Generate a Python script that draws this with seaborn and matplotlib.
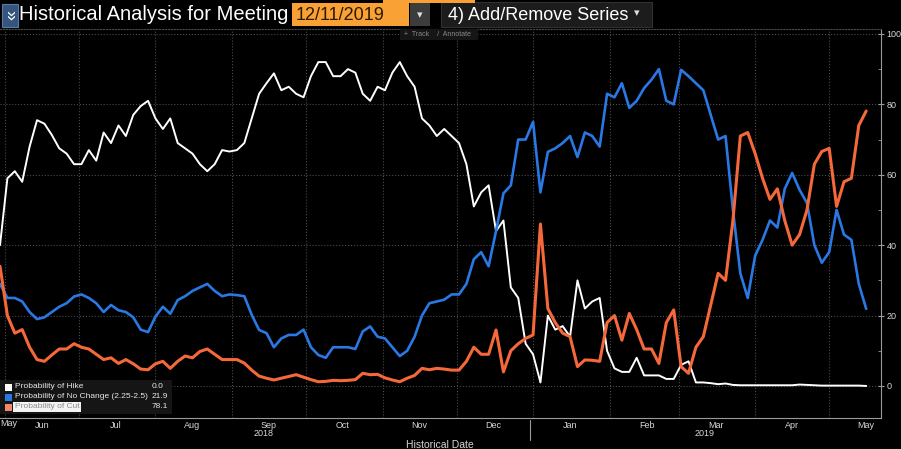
# Fed meeting probabilities chart (Bloomberg style)

# =====================================================
# 1. IMPORT LIBRARIES
# =====================================================

import pandas as pd
import numpy as np

import matplotlib
matplotlib.use("Agg")
import matplotlib.pyplot as plt
import matplotlib.dates as mdates
from matplotlib.lines import Line2D
from matplotlib.patches import Rectangle
import seaborn as sns

# =====================================================
# 2. DATA (one point every 3 days)
# =====================================================

start_date = "2018-05-30"

hike = [
    40, 59, 61, 58, 68, 75.5, 74.5, 71.3, 67.5, 66,
    63, 63, 67, 64, 72, 69, 74, 71, 77, 79.5,
    81, 76, 73, 76, 69, 67.5, 66, 63, 61, 63,
    67, 66.6, 67, 69, 76, 83, 86, 88.8, 84, 85,
    83, 82, 88, 92, 92, 88, 88, 90, 89, 83,
    81, 85, 84, 89, 92, 88, 85, 76, 74, 71,
    73, 71, 69, 63, 51, 55, 57, 44, 47, 28,
    25, 12, 9, 1, 20, 16, 17, 14, 30, 22,
    24, 25, 10, 5, 4, 4, 8, 3, 3, 3,
    2, 2, 6, 7, 1, 1, 0.8, 0.5, 0.7, 0.3,
    0.2, 0.2, 0.2, 0.2, 0.2, 0.2, 0.2, 0.2, 0.4, 0.3,
    0.2, 0.1, 0.1, 0.1, 0.1, 0.1, 0.1, 0.0,
]

no_change = [
    29, 25, 25, 24, 21, 19, 19.5, 21, 22.5, 23.5,
    25.4, 26, 25, 23.5, 21, 23, 21.5, 21, 19.5, 16,
    15.3, 19.7, 22.5, 20.5, 24.4, 25.5, 27, 28, 29, 27,
    25.5, 26, 25.8, 25.5, 20.2, 15.9, 15, 11, 13.5, 14.5,
    14.5, 16, 11, 8.8, 8, 11, 11, 11, 10.5, 15.5,
    16.9, 14, 13.5, 11, 8.5, 10, 14, 20, 23.5, 24,
    24.5, 26, 26, 29, 36, 38, 34, 44, 54.7, 57,
    70, 70, 75, 55, 66.5, 67.5, 69, 71, 65, 72,
    71, 68, 83, 82, 86, 79, 81, 84.6, 87, 90,
    81, 80, 89.8, 88, 86, 84, 77, 70, 71, 50,
    32, 25, 37, 41.5, 47, 45, 56, 60.5, 55.7, 52,
    40, 35, 38, 50, 43, 41.5, 29, 21.9,
]

cut = [
    34, 20, 15, 16, 11, 7.5, 7, 8.8, 10.5, 10.5,
    12, 11, 10.5, 9, 7.5, 8, 6.4, 7.5, 6.3, 4.8,
    4.6, 6.3, 7, 5, 7, 8.5, 8, 9.8, 10.5, 9,
    7.5, 7.5, 7.5, 6.5, 4.5, 2.8, 2.2, 1.7, 2.2, 2.7,
    3.2, 2.5, 1.8, 1.2, 1.3, 1.6, 1.5, 1.6, 1.8, 3.6,
    3.2, 3.3, 2.3, 1.7, 1.2, 2.2, 3, 5, 4.6, 5,
    4.8, 4.5, 4.5, 7, 11, 9, 9, 15.9, 4, 10,
    12, 13.5, 14.5, 46, 22, 18, 15, 14, 5.5, 7.4,
    7.3, 7, 18, 20, 13, 20.6, 16, 10.5, 10.5, 6.4,
    18, 21.6, 5.5, 3.6, 11, 14, 23, 32, 30, 47,
    71, 72, 66, 59, 53, 56, 47, 40, 43, 50,
    63, 66.6, 67.5, 51, 58, 59, 74, 78.1,
]

series_names = [
    "Probability of Hike",
    "Probability of No Change (2.25-2.5)",
    "Probability of Cut",
]
last_values = ["0.0", "21.9", "78.1"]

dates = pd.date_range(start_date, periods=len(hike), freq="3D")

df = pd.DataFrame({
    "Date": dates,
    "Hike": hike,
    "NoChange": no_change,
    "Cut": cut,
})

# =====================================================
# 3. STYLE
# =====================================================

sns.set_style("dark")

plt.rcParams["font.family"] = ["Liberation Sans", "DejaVu Sans"]

WHITE = "#ffffff"
BLUE = "#2a78e4"
ORANGE = "#f5683a"
GRID = "#4a4a4a"
TXT = "#d8d8d8"

W, H = 901, 449

fig = plt.figure(figsize=(W / 100, H / 100), dpi=100, facecolor="black")

ax = fig.add_axes([0, 31 / H, 881 / W, 389 / H])
ax.set_facecolor("black")

# =====================================================
# 4. LINES
# =====================================================

sns.lineplot(data=df, x="Date", y="Hike", color=WHITE, linewidth=1.4, ax=ax, legend=False)
sns.lineplot(data=df, x="Date", y="NoChange", color=BLUE, linewidth=1.9, ax=ax, legend=False)
sns.lineplot(data=df, x="Date", y="Cut", color=ORANGE, linewidth=2.2, ax=ax, legend=False)

# =====================================================
# 5. AXES
# =====================================================

ax.set_xlim(pd.Timestamp("2018-05-30"), pd.Timestamp("2019-05-22"))
ax.set_ylim(-9.1, 101.4)

ax.xaxis.set_major_locator(mdates.MonthLocator())
ax.xaxis.set_major_formatter(plt.NullFormatter())
ax.xaxis.set_minor_locator(mdates.MonthLocator(bymonthday=16))
ax.xaxis.set_minor_formatter(mdates.DateFormatter("%b"))

ax.yaxis.tick_right()
ax.set_yticks([0, 20, 40, 60, 80, 100])
ax.set_yticks([10, 30, 50, 70, 90], minor=True)

ax.tick_params(axis="x", which="major", direction="inout", length=5,
               color="#9a9a9a", width=0.8)
ax.tick_params(axis="x", which="minor", length=0, labelsize=6.5,
               labelcolor=TXT, pad=2)
ax.tick_params(axis="y", which="major", direction="inout", length=5,
               color="#9a9a9a", width=0.8, labelsize=6.5, labelcolor=TXT, pad=1.5)
ax.tick_params(axis="y", which="minor", direction="in", length=2,
               color="#9a9a9a", width=0.6)

ax.set_xlabel("")
ax.set_ylabel("")

ax.grid(True, which="major", color=GRID, linestyle=":", linewidth=0.8)
ax.grid(False, which="minor")

ax.spines["left"].set_visible(False)
ax.spines["top"].set_color(GRID)
ax.spines["top"].set_linestyle(":")
ax.spines["top"].set_linewidth(0.8)
ax.spines["bottom"].set_color("#9a9a9a")
ax.spines["right"].set_color("#9a9a9a")


def px(x, y):
    return x / W, 1 - y / H


# leftover "May" label at the left edge
fig.text(*px(0, 424), "May", color=TXT, fontsize=6.5, ha="left", va="center")

fig.text(*px(264, 434), "2018", color=TXT, fontsize=6.5, ha="center", va="center")
fig.text(*px(705, 434), "2019", color=TXT, fontsize=6.5, ha="center", va="center")
fig.add_artist(Line2D([530 / W, 530 / W], [1 - 420 / H, 1 - 440 / H],
                      color="#9a9a9a", linewidth=0.8))
fig.text(*px(440, 445), "Historical Date", color=TXT, fontsize=7.5,
         ha="center", va="center")

# =====================================================
# 6. LEGEND BOX
# =====================================================

fig.add_artist(Rectangle(px(0, 414), 172 / W, 34 / H, transform=fig.transFigure,
                         facecolor="#151515", edgecolor="none", zorder=5))

legend_colors = [WHITE, BLUE, "#f2876a"]
for k, (name, val, col) in enumerate(zip(series_names, last_values, legend_colors)):
    yy = 387 + k * 10
    fig.add_artist(Rectangle(px(5, yy + 3.5), 7 / W, 7 / H, transform=fig.transFigure,
                             facecolor=col, edgecolor="none", zorder=6))
    if k == 2:
        fig.text(*px(15, yy), name, color="#8a8a8a", fontsize=6, ha="left",
                 va="center", zorder=7,
                 bbox=dict(facecolor="#f4f4f4", edgecolor="none", pad=1.2))
    else:
        fig.text(*px(15, yy), name, color="#e8e8e8", fontsize=6, ha="left",
                 va="center", zorder=7)
    fig.text(*px(152, yy), val, color="#e8e8e8", fontsize=6, ha="left",
             va="center", zorder=7)

# =====================================================
# 7. HEADER
# =====================================================

fig.add_artist(Rectangle(px(2, 27), 16 / W, 23 / H, transform=fig.transFigure,
                         facecolor="#35557f", edgecolor="#5a7aa5", linewidth=0.8))
fig.text(*px(10, 15), "»", color="white", fontsize=13, rotation=-90,
         ha="center", va="center")

fig.text(*px(19, 15), "Historical Analysis for Meeting", color="white",
         fontsize=14.5, ha="left", va="center")

fig.add_artist(Rectangle(px(292, 26), 117 / W, 23 / H, transform=fig.transFigure,
                         facecolor="#f9a134", edgecolor="none"))
fig.text(*px(296, 15), "12/11/2019", color="#2a1a00", fontsize=13,
         ha="left", va="center")
fig.add_artist(Rectangle(px(410, 26), 20 / W, 23 / H, transform=fig.transFigure,
                         facecolor="#3c3c3c", edgecolor="none"))
fig.text(*px(420, 15), "▾", color="#dddddd", fontsize=8, ha="center", va="center")

fig.add_artist(Rectangle(px(441, 27), 211 / W, 25 / H, transform=fig.transFigure,
                         facecolor="#1c1c1c", edgecolor="#303030", linewidth=0.8))
fig.text(*px(448, 15), "4) Add/Remove Series", color="white", fontsize=13,
         ha="left", va="center")
fig.text(*px(637, 13), "▾", color="#dddddd", fontsize=8, ha="center", va="center")

fig.add_artist(Rectangle(px(383, 2.5), 92 / W, 2.5 / H, transform=fig.transFigure,
                         facecolor="#f9a134", edgecolor="none"))

fig.add_artist(Rectangle(px(400, 40), 78 / W, 11 / H, transform=fig.transFigure,
                         facecolor="#161616", edgecolor="none", zorder=4))
fig.text(*px(404, 34.5), "+  Track    /  Annotate", color="#8a8a8a", fontsize=5,
         ha="left", va="center", zorder=5)

plt.savefig("out.png", dpi=100, facecolor="black")
